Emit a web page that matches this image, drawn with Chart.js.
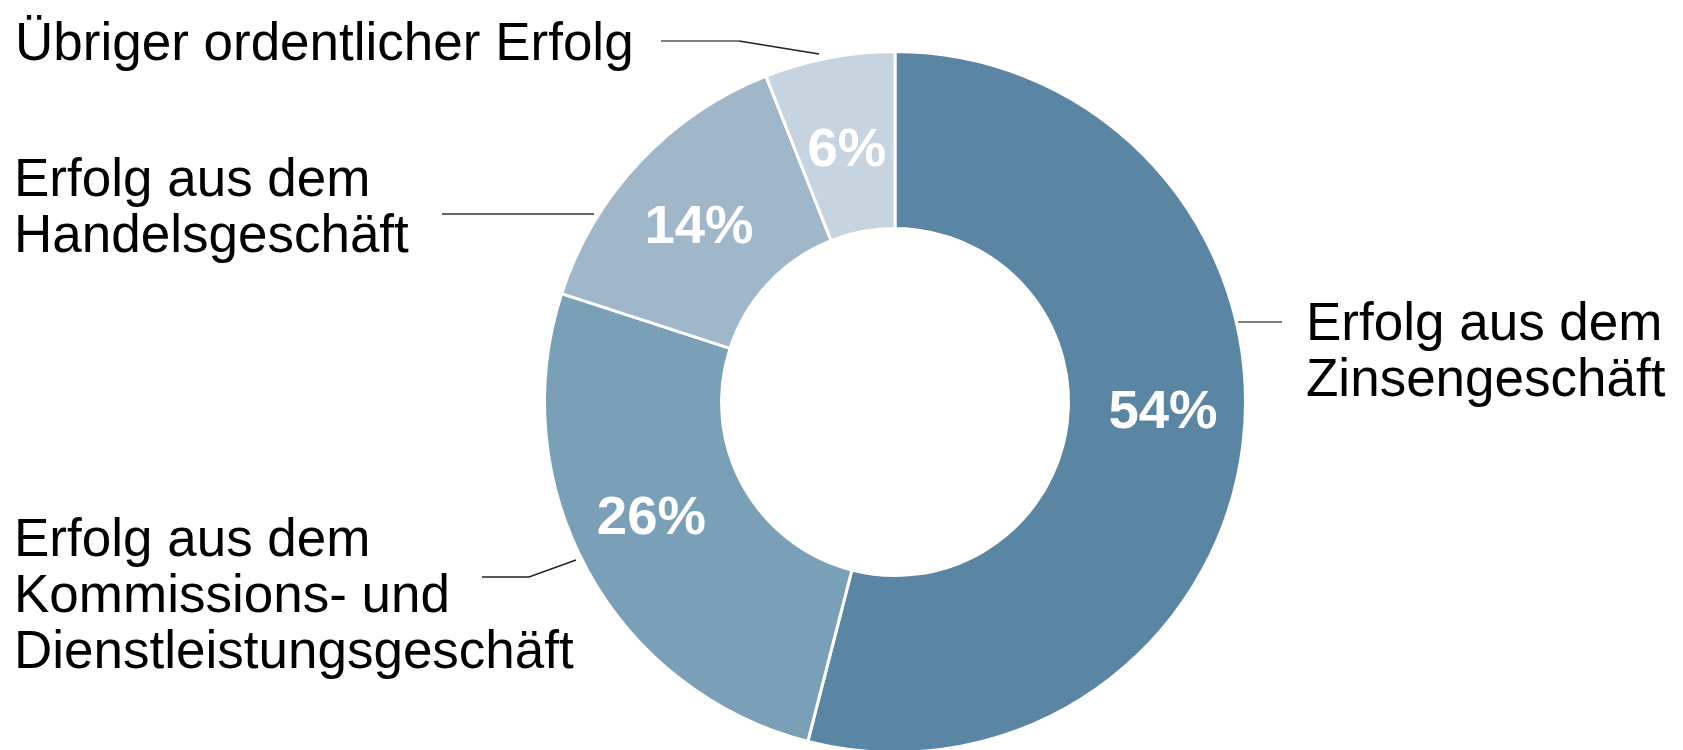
<!DOCTYPE html>
<html>
<head>
<meta charset="utf-8">
<script src="https://cdn.jsdelivr.net/npm/chart.js@4/dist/chart.umd.min.js"></script>
<style>
  html, body { margin: 0; padding: 0; background: #ffffff; width: 1683px; height: 750px; overflow: hidden; }
  #wrap { position: absolute; left: 0; top: 0; width: 1683px; height: 760px; }
</style>
</head>
<body>
<div id="wrap"><canvas id="c" width="1683" height="760"></canvas></div>
<script>
// ---- data ----
const categories = [
  'Erfolg aus dem Zinsengeschäft',
  'Erfolg aus dem Kommissions- und Dienstleistungsgeschäft',
  'Erfolg aus dem Handelsgeschäft',
  'Übriger ordentlicher Erfolg'
];
const shares = [54, 26, 14, 6];
const categoryLines = [
  ['Erfolg aus dem', 'Zinsengeschäft'],
  ['Erfolg aus dem', 'Kommissions- und', 'Dienstleistungsgeschäft'],
  ['Erfolg aus dem', 'Handelsgeschäft'],
  ['Übriger ordentlicher Erfolg']
];
const sliceColors = ['#5A85A3', '#7AA0B8', '#A0B7C9', '#C5D4DF'];

// ---- label plugin (category texts, leader lines, percent labels) ----
const labelPlugin = {
  id: 'sliceLabels',
  afterDatasetsDraw(chart, args, opts) {
    const ctx = chart.ctx;
    const meta = chart.getDatasetMeta(0);
    ctx.save();
    opts.leaders.forEach(l => {
      l.segments.forEach(s => {
        ctx.beginPath();
        ctx.strokeStyle = s.color;
        ctx.lineWidth = s.width;
        ctx.moveTo(s.pts[0][0], s.pts[0][1]);
        for (let i = 1; i < s.pts.length; i++) ctx.lineTo(s.pts[i][0], s.pts[i][1]);
        ctx.stroke();
      });
    });
    ctx.fillStyle = '#000000';
    ctx.font = opts.textFont;
    ctx.textAlign = 'left';
    ctx.textBaseline = 'alphabetic';
    categoryLines.forEach((lines, i) => {
      const p = opts.textPos[i];
      lines.forEach((t, j) => ctx.fillText(t, p.x, p.y + j * opts.lineHeight));
    });
    ctx.fillStyle = '#ffffff';
    ctx.font = opts.pctFont;
    ctx.textAlign = 'center';
    ctx.textBaseline = 'middle';
    meta.data.forEach((arc, i) => {
      const pos = arc.tooltipPosition();
      const off = opts.pctOffset[i];
      ctx.fillText(shares[i] + '%', pos.x + off.dx, pos.y + off.dy);
    });
    ctx.restore();
  }
};

new Chart(document.getElementById('c'), {
  type: 'doughnut',
  data: {
    labels: categories,
    datasets: [{
      data: shares,
      backgroundColor: sliceColors,
      borderColor: '#ffffff',
      borderWidth: 3,
      radius: 350.5,
      cutout: '49.5%',
      clip: false
    }]
  },
  options: {
    responsive: false,
    devicePixelRatio: 1,
    animation: false,
    events: [],
    layout: { padding: { left: 107, right: 0, top: 52, bottom: 8 } },
    plugins: {
      legend: { display: false },
      tooltip: { enabled: false },
      sliceLabels: {
        textFont: '53px "Liberation Sans", Arial, sans-serif',
        pctFont: 'bold 54.5px "Liberation Sans", Arial, sans-serif',
        lineHeight: 56,
        textPos: [
          { x: 1306, y: 340 },
          { x: 14, y: 556 },
          { x: 14, y: 196 },
          { x: 15, y: 60 }
        ],
        pctOffset: [
          { dx: 8, dy: -22 },
          { dx: -14, dy: -9 },
          { dx: -5, dy: 5 },
          { dx: 1, dy: 6 }
        ],
        leaders: [
          { segments: [ { color: '#808080', width: 2, pts: [[1238, 322], [1282, 322]] } ] },
          { segments: [ { color: '#222222', width: 1.5, pts: [[482, 577], [529, 577], [576, 560]] } ] },
          { segments: [ { color: '#333333', width: 1.5, pts: [[442, 214], [594, 214]] } ] },
          { segments: [
              { color: '#7f7f7f', width: 2, pts: [[661, 41], [739, 41]] },
              { color: '#222222', width: 1.5, pts: [[739, 41], [819, 54]] }
          ] }
        ]
      }
    }
  },
  plugins: [labelPlugin]
});
</script>
</body>
</html>
